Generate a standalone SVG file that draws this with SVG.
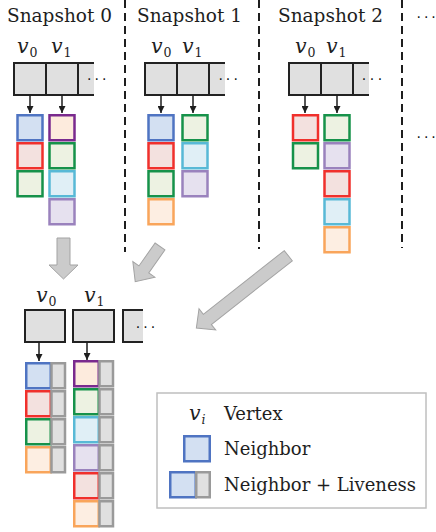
<svg xmlns="http://www.w3.org/2000/svg" width="436" height="532" viewBox="0 0 436 532">
<style>
text{font-family:"DejaVu Serif","Liberation Serif",serif;fill:#1e1e1e}
.title{font-size:18.5px}
.leg{font-size:18px}
.vv{font-style:italic;font-size:20.5px}
.sub{font-size:12.5px}
.dots{font-family:"DejaVu Sans",sans-serif;font-size:14px;fill:#111}
.dash{stroke:#1e1e1e;stroke-width:2;stroke-dasharray:8 5;fill:none}
.cell{fill:#e0e0e0;stroke:#222;stroke-width:2}
.pc{fill:#e0e0e0;stroke:none}
.pe{fill:none;stroke:#222;stroke-width:2}
.n{stroke-width:2.5}
.b{fill:#d3e0f2;stroke:#4f74c2}
.r{fill:#f3e1df;stroke:#f0302c}
.g{fill:#edf2e2;stroke:#16924a}
.p{fill:#fdebdd;stroke:#7a2a8e}
.c{fill:#e0eff6;stroke:#58b9d6}
.l{fill:#e6e1ef;stroke:#9a82bd}
.o{fill:#fdeee2;stroke:#f9a55b}
.lv{fill:#e0e0e0;stroke:#9a9a9a;stroke-width:2.5}
.ptr{stroke:#1e1e1e;stroke-width:1.5;fill:none}
.big{fill:#cbcbcb;stroke:#a3a3a3;stroke-width:1}
</style>
<defs>
<marker id="ah" markerWidth="7" markerHeight="7" refX="7" refY="3.5" orient="auto" markerUnits="userSpaceOnUse"><path d="M0,0 L7,3.5 L0,7 z" fill="#1e1e1e"/></marker>
</defs>

<g id="separators">
<line class="dash" x1="125" y1="0" x2="125" y2="252"/>
<line class="dash" x1="259" y1="0" x2="259" y2="249"/>
<line class="dash" x1="402" y1="0" x2="402" y2="248"/>
</g>

<g id="snapshot0">
<text class="title" x="7" y="22">Snapshot 0</text>
<text x="17" y="53"><tspan class="vv">v</tspan><tspan class="sub" dx="1" dy="4">0</tspan></text>
<text x="51" y="53"><tspan class="vv">v</tspan><tspan class="sub" dx="1" dy="4">1</tspan></text>
<rect class="cell" x="14" y="63" width="32" height="32"/>
<rect class="cell" x="46" y="63" width="32" height="32"/>
<rect class="pc" x="78" y="63" width="16" height="32"/>
<path class="pe" d="M94,63 H78 V95 H94"/>
<text class="dots" x="87.1 94.5 102.1" y="84">···</text>
<rect class="n b" x="17.5" y="115.25" width="25" height="25"/>
<rect class="n r" x="17.5" y="143.25" width="25" height="25"/>
<rect class="n g" x="17.5" y="171.25" width="25" height="25"/>
<rect class="n p" x="49.5" y="115.25" width="25" height="25"/>
<rect class="n g" x="49.5" y="143.25" width="25" height="25"/>
<rect class="n c" x="49.5" y="171.25" width="25" height="25"/>
<rect class="n l" x="49.5" y="199.25" width="25" height="25"/>
</g>

<g id="snapshot1">
<text class="title" x="137" y="22">Snapshot 1</text>
<text x="151" y="53"><tspan class="vv">v</tspan><tspan class="sub" dx="1" dy="4">0</tspan></text>
<text x="182" y="53"><tspan class="vv">v</tspan><tspan class="sub" dx="1" dy="4">1</tspan></text>
<rect class="cell" x="145" y="63" width="32" height="32"/>
<rect class="cell" x="177" y="63" width="32" height="32"/>
<rect class="pc" x="209" y="63" width="16" height="32"/>
<path class="pe" d="M225,63 H209 V95 H225"/>
<text class="dots" x="218.5 225.8 233.5" y="84">···</text>
<rect class="n b" x="148.5" y="115.25" width="25" height="25"/>
<rect class="n r" x="148.5" y="143.25" width="25" height="25"/>
<rect class="n g" x="148.5" y="171.25" width="25" height="25"/>
<rect class="n o" x="148.5" y="199.25" width="25" height="25"/>
<rect class="n g" x="182.5" y="115.25" width="25" height="25"/>
<rect class="n c" x="182.5" y="143.25" width="25" height="25"/>
<rect class="n l" x="182.5" y="171.25" width="25" height="25"/>
</g>

<g id="snapshot2">
<text class="title" x="278" y="22">Snapshot 2</text>
<text x="295" y="53"><tspan class="vv">v</tspan><tspan class="sub" dx="1" dy="4">0</tspan></text>
<text x="326" y="53"><tspan class="vv">v</tspan><tspan class="sub" dx="1" dy="4">1</tspan></text>
<rect class="cell" x="289" y="63" width="32" height="32"/>
<rect class="cell" x="321" y="63" width="32" height="32"/>
<rect class="pc" x="353" y="63" width="16" height="32"/>
<path class="pe" d="M369,63 H353 V95 H369"/>
<text class="dots" x="361.8 369.8 377.8" y="84">···</text>
<rect class="n r" x="293" y="115.25" width="25" height="25"/>
<rect class="n g" x="293" y="143.25" width="25" height="25"/>
<rect class="n g" x="324.5" y="115.25" width="25" height="25"/>
<rect class="n l" x="324.5" y="143.25" width="25" height="25"/>
<rect class="n r" x="324.5" y="171.25" width="25" height="25"/>
<rect class="n c" x="324.5" y="199.25" width="25" height="25"/>
<rect class="n o" x="324.5" y="227.25" width="25" height="25"/>
</g>

<g id="more">
<text class="dots" x="416.6 424 431.2" y="22">···</text>
<text class="dots" x="416.6 424 431.2" y="142">···</text>
</g>

<g id="merged">
<text x="36" y="302"><tspan class="vv">v</tspan><tspan class="sub" dx="1" dy="4">0</tspan></text>
<text x="84" y="302"><tspan class="vv">v</tspan><tspan class="sub" dx="1" dy="4">1</tspan></text>
<rect class="cell" x="25" y="310" width="40" height="32"/>
<rect class="cell" x="73" y="310" width="41" height="32"/>
<rect class="pc" x="123" y="310" width="20" height="32"/>
<path class="pe" d="M143,310 H123 V342 H143"/>
<text class="dots" x="135.8 143.3 150.8" y="332">···</text>
<rect class="n b" x="26.25" y="363.25" width="24.5" height="25"/>
<rect class="lv" x="51.5" y="363.25" width="13.5" height="25"/>
<rect class="n r" x="26.25" y="391.25" width="24.5" height="25"/>
<rect class="lv" x="51.5" y="391.25" width="13.5" height="25"/>
<rect class="n g" x="26.25" y="419.25" width="24.5" height="25"/>
<rect class="lv" x="51.5" y="419.25" width="13.5" height="25"/>
<rect class="n o" x="26.25" y="447.25" width="24.5" height="25"/>
<rect class="lv" x="51.5" y="447.25" width="13.5" height="25"/>
<rect class="n p" x="74.25" y="361.25" width="24.5" height="25"/>
<rect class="lv" x="99.5" y="361.25" width="13.5" height="25"/>
<rect class="n g" x="74.25" y="389.25" width="24.5" height="25"/>
<rect class="lv" x="99.5" y="389.25" width="13.5" height="25"/>
<rect class="n c" x="74.25" y="417.25" width="24.5" height="25"/>
<rect class="lv" x="99.5" y="417.25" width="13.5" height="25"/>
<rect class="n l" x="74.25" y="445.25" width="24.5" height="25"/>
<rect class="lv" x="99.5" y="445.25" width="13.5" height="25"/>
<rect class="n r" x="74.25" y="473.25" width="24.5" height="25"/>
<rect class="lv" x="99.5" y="473.25" width="13.5" height="25"/>
<rect class="n o" x="74.25" y="501.25" width="24.5" height="25"/>
<rect class="lv" x="99.5" y="501.25" width="13.5" height="25"/>
</g>

<g id="legend">
<rect x="157" y="393" width="269" height="115" fill="#fff" stroke="#bfbfbf" stroke-width="1.5"/>
<text x="189" y="420"><tspan class="vv">v</tspan><tspan class="sub" font-style="italic" dx="1" dy="4">i</tspan></text>
<text class="leg" x="224" y="420">Vertex</text>
<rect class="n b" x="184.25" y="436.25" width="25.5" height="25"/>
<text class="leg" x="224" y="455">Neighbor</text>
<rect class="n b" x="170.25" y="472.25" width="25.5" height="25"/>
<rect class="lv" x="196.25" y="472.25" width="13.5" height="25"/>
<text class="leg" x="224" y="491">Neighbor + Liveness</text>
</g>

<g id="connectors">
<line class="ptr" x1="30" y1="95" x2="30" y2="113" marker-end="url(#ah)"/>
<line class="ptr" x1="62" y1="95" x2="62" y2="113" marker-end="url(#ah)"/>
<line class="ptr" x1="161" y1="95" x2="161" y2="113" marker-end="url(#ah)"/>
<line class="ptr" x1="193" y1="95" x2="193" y2="113" marker-end="url(#ah)"/>
<line class="ptr" x1="305" y1="95" x2="305" y2="113" marker-end="url(#ah)"/>
<line class="ptr" x1="337" y1="95" x2="337" y2="113" marker-end="url(#ah)"/>
<line class="ptr" x1="39" y1="342" x2="39" y2="361" marker-end="url(#ah)"/>
<line class="ptr" x1="87" y1="342" x2="87" y2="360" marker-end="url(#ah)"/>
<polygon class="big" transform="translate(63.5,238) rotate(90)" points="0,-6.5 27,-6.5 27,-14.5 41,0 27,14.5 27,6.5 0,6.5"/>
<polygon class="big" transform="translate(160,246.5) rotate(125.2)" points="0,-6 28,-6 28,-13.5 43,0 28,13.5 28,6 0,6"/>
<polygon class="big" transform="translate(288.3,255.7) rotate(141.8)" points="0,-6.5 103,-6.5 103,-13.5 117,0 103,13.5 103,6.5 0,6.5"/>
</g>
</svg>
